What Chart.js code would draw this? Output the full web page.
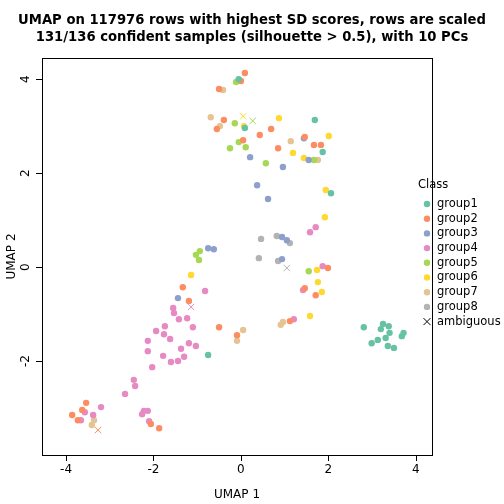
<!DOCTYPE html>
<html><head><meta charset="utf-8">
<script src="https://cdn.jsdelivr.net/npm/chart.js@4/dist/chart.umd.min.js"></script>
<style>html,body{margin:0;background:#fff}#w{width:504px;height:504px}</style>
</head><body><div id="w"><canvas id="c"></canvas></div>
<script>
const classNames=["group1","group2","group3","group4","group5","group6","group7","group8"];
const colors=["#66C2A5","#FC8D62","#8DA0CB","#E78AC3","#A6D854","#FFD92F","#E5C494","#B3B3B3"];
const xTicks=[-4,-2,0,2,4];
const yTicks=[-2,0,2,4];
const group1=[[-0.05,4.0],[0.09,2.96],[1.69,3.13],[1.87,2.45],[2.06,1.57],[-0.75,-1.87],[2.81,-1.28],[3.25,-1.21],[3.38,-1.26],[3.20,-1.32],[3.40,-1.40],[3.31,-1.51],[3.13,-1.55],[2.99,-1.62],[3.36,-1.68],[3.50,-1.72],[3.68,-1.47],[3.72,-1.40]];
const group2=[[0.09,4.13],[0,3.96],[-0.50,3.79],[-0.39,3.13],[-0.55,2.94],[0.05,2.70],[0.43,2.81],[0.69,2.94],[0.85,2.53],[1.46,2.77],[1.67,2.60],[1.83,2.60],[1.99,-0.02],[1.71,-0.60],[1.46,-0.45],[1.12,-1.15],[-0.50,-1.28],[-0.09,-1.45],[-1.33,-0.43],[-1.19,-0.72],[-3.54,-2.89],[-3.63,-3.04],[-3.86,-3.15],[-3.73,-3.26],[-2.06,-3.34],[-1.87,-3.43]];
const group3=[[0.21,2.34],[0.96,2.13],[1.44,2.74],[1.55,2.28],[0.37,1.74],[0.62,1.45],[-0.75,0.40],[-0.62,0.38],[0.94,0.64],[1.05,0.57],[0.94,0.17],[-1.44,-0.66]];
const group4=[[1.71,0.85],[1.58,0.74],[1.87,0.02],[1.42,-0.49],[1.21,-1.11],[-0.82,-0.51],[-1.55,-0.87],[-1.53,-0.98],[-1.42,-1.11],[-1.23,-1.09],[-1.10,-1.28],[-1.74,-1.26],[-1.94,-1.36],[-1.76,-1.43],[-1.62,-1.53],[-2.13,-1.57],[-1.19,-1.62],[-1.03,-1.68],[-2.13,-1.79],[-1.37,-1.74],[-1.78,-1.89],[-1.30,-1.91],[-1.44,-2.00],[-1.60,-2.02],[-2.03,-2.13],[-2.45,-2.40],[-2.42,-2.53],[-2.65,-2.70],[-3.20,-2.98],[-3.57,-3.09],[-3.38,-3.15],[-3.66,-3.26],[-2.26,-3.13],[-2.22,-3.06],[-2.13,-3.06],[-2.10,-3.28]];
const group5=[[-0.11,3.94],[-0.14,3.06],[-0.05,2.66],[0.11,2.55],[-0.25,2.53],[0.57,2.21],[1.67,2.28],[1.55,-0.09],[-0.94,0.34],[-1.03,0.26],[-0.96,0.15]];
const group6=[[0.87,3.17],[0.07,3.00],[2.01,2.79],[1.19,2.43],[1.44,2.32],[1.94,1.64],[1.92,1.06],[1.74,-0.06],[1.76,-0.32],[1.85,-0.53],[1.58,-1.04],[-1.14,-0.17]];
const group7=[[-0.41,3.77],[-0.69,3.19],[-0.48,3.00],[1.14,2.68],[1.76,2.28],[0.05,-1.34],[-0.09,-1.57],[0.91,-1.23],[0.96,-1.17],[-3.36,-3.26],[-3.41,-3.36]];
const group8=[[0.46,0.60],[0.82,0.66],[1.12,0.51],[0.41,0.19],[0.85,0.13]];
const ambiguous=[[0.05,3.21],[0.27,3.11],[1.05,-0.02],[-1.14,-0.85],[-3.27,-3.47]];
const ambiguousClass=[5,4,7,3,1];
const groups=[group1,group2,group3,group4,group5,group6,group7,group8];
const toPts=a=>a.map(p=>({x:p[0],y:p[1]}));
const datasets=groups.map((g,i)=>({label:classNames[i],data:toPts(g),backgroundColor:colors[i],borderColor:colors[i],pointRadius:3.2,pointBorderWidth:0}));
datasets.push({label:"ambiguous",data:toPts(ambiguous),pointStyle:'cross',rotation:45,pointRadius:4.5,pointBorderWidth:1,borderColor:ambiguousClass.map(i=>colors[i]),backgroundColor:'transparent'});
const deco={id:'deco',afterDraw(ch){
 const c=ch.ctx,a=ch.chartArea,xs=ch.scales.x,ys=ch.scales.y;
 c.save();c.strokeStyle='#000';c.lineWidth=1;c.fillStyle='#000';
 c.strokeRect(a.left+0.5,a.top+0.5,a.right-a.left,a.bottom-a.top);
 c.font='12px "DejaVu Sans", sans-serif';c.textAlign='center';c.textBaseline='top';
 c.beginPath();const x0=xs.getPixelForValue(xTicks[0]),x1=xs.getPixelForValue(xTicks[xTicks.length-1]);
 c.moveTo(x0,a.bottom+0.5);c.lineTo(x1,a.bottom+0.5);
 xTicks.forEach(t=>{const p=Math.round(xs.getPixelForValue(t))+0.5;c.moveTo(p,a.bottom);c.lineTo(p,a.bottom+6);});
 c.stroke();
 xTicks.forEach(t=>c.fillText(String(t),xs.getPixelForValue(t),a.bottom+9));
 c.beginPath();const y0=ys.getPixelForValue(yTicks[0]),y1=ys.getPixelForValue(yTicks[yTicks.length-1]);
 c.moveTo(a.left+0.5,y0);c.lineTo(a.left+0.5,y1);
 yTicks.forEach(t=>{const p=Math.round(ys.getPixelForValue(t))+0.5;c.moveTo(a.left,p);c.lineTo(a.left-6,p);});
 c.stroke();
 yTicks.forEach(t=>{c.save();c.translate(a.left-10,ys.getPixelForValue(t));c.rotate(-Math.PI/2);c.textBaseline='bottom';c.fillText(String(t),0,0);c.restore();});
 c.fillText('UMAP 1',(a.left+a.right)/2,489);
 c.save();c.translate(12,(a.top+a.bottom)/2);c.rotate(-Math.PI/2);c.textBaseline='middle';c.fillText('UMAP 2',0,0);c.restore();
 c.font='bold 13.2px "DejaVu Sans", sans-serif';c.textBaseline='middle';
 c.fillText('UMAP on 117976 rows with highest SD scores, rows are scaled',252,21);
 c.fillText('131/136 confident samples (silhouette > 0.5), with 10 PCs',252,38);
 c.font='11.5px "DejaVu Sans", sans-serif';c.textAlign='left';
 c.fillText('Class',418,185);
 const labs=classNames.concat(['ambiguous']);
 labs.forEach((l,i)=>{const y=204+i*14.7;c.fillText(l,437,y);
  if(i<8){c.fillStyle=colors[i];c.beginPath();c.arc(427,y,3.2,0,Math.PI*2);c.fill();c.fillStyle='#000';}
  else{c.beginPath();c.moveTo(423.5,y-3.5);c.lineTo(430.5,y+3.5);c.moveTo(430.5,y-3.5);c.lineTo(423.5,y+3.5);c.stroke();}
 });
 c.restore();}};
new Chart(document.getElementById('c'),{type:'scatter',data:{datasets},
 options:{responsive:true,maintainAspectRatio:false,animation:false,
 layout:{padding:{left:42,right:72,top:58,bottom:49}},
 plugins:{legend:{display:false},tooltip:{enabled:false}},
 scales:{x:{type:'linear',min:-4.55,max:4.37,display:false},y:{type:'linear',min:-4.0,max:4.45,display:false}}},
 plugins:[deco]});
</script></body></html>
